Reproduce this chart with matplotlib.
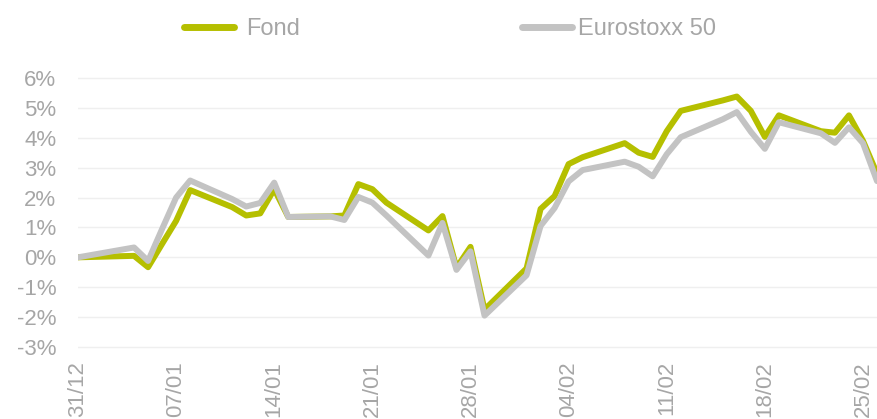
import matplotlib
matplotlib.use("Agg")
import matplotlib.pyplot as plt
from matplotlib.lines import Line2D
import pandas as pd

# ---- data ----
dates = ["2020-12-31",
         "2021-01-04", "2021-01-05", "2021-01-06", "2021-01-07", "2021-01-08",
         "2021-01-11", "2021-01-12", "2021-01-13", "2021-01-14", "2021-01-15",
         "2021-01-18", "2021-01-19", "2021-01-20", "2021-01-21", "2021-01-22",
         "2021-01-25", "2021-01-26", "2021-01-27", "2021-01-28", "2021-01-29",
         "2021-02-01", "2021-02-02", "2021-02-03", "2021-02-04", "2021-02-05",
         "2021-02-08", "2021-02-09", "2021-02-10", "2021-02-11", "2021-02-12",
         "2021-02-15", "2021-02-16", "2021-02-17", "2021-02-18", "2021-02-19",
         "2021-02-22", "2021-02-23", "2021-02-24", "2021-02-25", "2021-02-26"]

fond = [0.00,
        0.05, -0.33, 0.45, 1.22, 2.25,
        1.68, 1.40, 1.47, 2.28, 1.35,
        1.37, 1.40, 2.45, 2.28, 1.83,
        0.90, 1.38, -0.35, 0.35, -1.75,
        -0.37, 1.62, 2.05, 3.12, 3.35,
        3.82, 3.50, 3.36, 4.22, 4.90,
        5.25, 5.38, 4.90, 4.03, 4.75,
        4.22, 4.17, 4.75, 3.90, 2.80]

eurostoxx = [0.00,
             0.33, -0.12, 0.95, 2.00, 2.57,
             1.95, 1.70, 1.82, 2.50, 1.35,
             1.37, 1.25, 2.02, 1.83, 1.40,
             0.06, 1.15, -0.42, 0.20, -1.95,
             -0.60, 1.05, 1.65, 2.54, 2.92,
             3.20, 3.03, 2.71, 3.45, 4.02,
             4.62, 4.86, 4.20, 3.63, 4.52,
             4.15, 3.83, 4.35, 3.82, 2.55]

tick_dates = ["2020-12-31", "2021-01-07", "2021-01-14", "2021-01-21",
              "2021-01-28", "2021-02-04", "2021-02-11", "2021-02-18", "2021-02-25"]
y_ticks = [-3, -2, -1, 0, 1, 2, 3, 4, 5, 6]

series_names = ["Fond", "Eurostoxx 50"]

# ---- style ----
plt.rcParams["font.family"] = ["Liberation Sans", "DejaVu Sans"]
GREEN = "#b5bf00"
GREY = "#c3c3c3"
TXT = "#a6a6a6"

W, H = 877, 419
fig = plt.figure(figsize=(W / 100, H / 100), dpi=100)
ax = fig.add_axes([78 / W, 1 - 348.5 / H, 1 - 78 / W, (348.5 - 76.5) / H])

x = pd.to_datetime(dates)
l1, = ax.plot(x, fond, color=GREEN, lw=4.3, solid_capstyle="round", zorder=3)
l2, = ax.plot(x, eurostoxx, color=GREY, lw=4.3, solid_capstyle="round", zorder=4)

ax.set_xlim(x[0], x[-1])
ax.set_ylim(-3.05, 6.05)

ax.set_yticks(y_ticks)
ax.set_yticklabels([f"{v}%" for v in y_ticks])
xt = pd.to_datetime(tick_dates)
ax.set_xticks(xt)
ax.set_xticklabels([d.strftime("%d/%m") for d in xt], rotation=90)

ax.tick_params(axis="y", length=0, pad=15.5, labelsize=16, labelcolor=TXT)
ax.tick_params(axis="x", length=0, pad=9, labelsize=16, labelcolor=TXT)

ax.grid(axis="y", color="#efefef", lw=1)
ax.grid(axis="x", visible=False)
ax.set_axisbelow(True)
for s in ax.spines.values():
    s.set_visible(False)

# ---- legend: two entries placed like the reference ----
fs = 17
fs_px = fs * 100 / 72
h1 = Line2D([], [], color=GREEN, lw=5, solid_capstyle="round")
h2 = Line2D([], [], color=GREY, lw=5, solid_capstyle="round")
leg_y = 0.93
lg1 = fig.legend([h1], [series_names[0]], loc="center left",
                 bbox_to_anchor=(183.5 / W, leg_y), frameon=False,
                 borderpad=0, borderaxespad=0, handlelength=50 / fs_px,
                 handletextpad=13 / fs_px, fontsize=fs, labelcolor=TXT)
lg2 = fig.legend([h2], [series_names[1]], loc="center left",
                 bbox_to_anchor=(521.5 / W, leg_y), frameon=False,
                 borderpad=0, borderaxespad=0, handlelength=50 / fs_px,
                 handletextpad=6 / fs_px, fontsize=fs, labelcolor=TXT)

fig.savefig("out.png", dpi=100)
